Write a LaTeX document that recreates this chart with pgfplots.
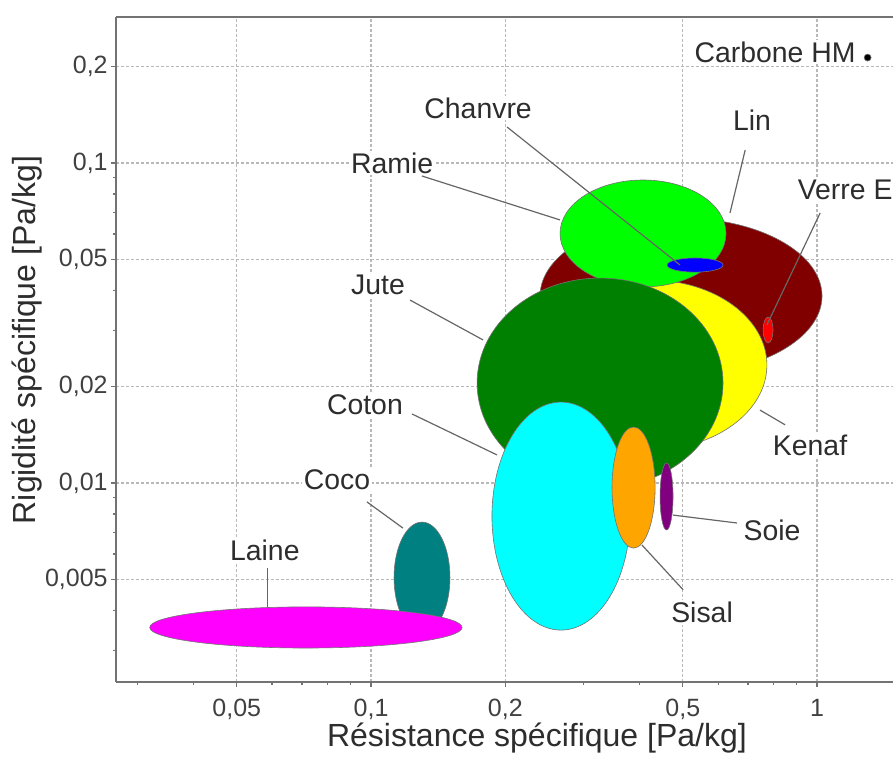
\documentclass[border=0pt]{standalone}
\usepackage{fontspec}
\setmainfont{Liberation Sans}
\usepackage{pgfplots}
\pgfplotsset{compat=1.18}
\usetikzlibrary{calc}

\definecolor{cLaine}{RGB}{255,0,255}
\definecolor{cCoco}{RGB}{0,128,128}
\definecolor{cCoton}{RGB}{0,255,255}
\definecolor{cSisal}{RGB}{255,165,0}
\definecolor{cSoie}{RGB}{128,0,128}
\definecolor{cJute}{RGB}{0,128,0}
\definecolor{cKenaf}{RGB}{255,255,0}
\definecolor{cLin}{RGB}{128,0,0}
\definecolor{cRamie}{RGB}{0,255,0}
\definecolor{cChanvre}{RGB}{0,0,255}
\definecolor{cVerre}{RGB}{255,0,0}
\definecolor{txt}{RGB}{45,45,45}

\newcommand{\tfont}{\fontsize{12.5}{14}\selectfont}
\newcommand{\lfont}{\fontsize{14.2}{16}\selectfont}
\newcommand{\afont}{\fontsize{16}{18}\selectfont}

% colour, x min, x max, y min, y max (data values)
\newcommand{\fibre}[5]{%
  \draw[fill=#1, draw=black!55, line width=0.3pt]
    let \p1=(axis cs:#2,#4), \p2=(axis cs:#3,#5) in
    ($(\p1)!0.5!(\p2)$) ellipse [x radius={(\x2-\x1)/2}, y radius={(\y2-\y1)/2}];
}
\newcommand{\lab}[3]{\node[fill=white, inner sep=1pt, text=txt, font=\lfont] at (axis cs:#1,#2) {#3};}
\newcommand{\lead}[4]{\draw[black!60, line width=0.6pt] (axis cs:#1,#2) -- (axis cs:#3,#4);}

\begin{document}
\begin{tikzpicture}
\begin{axis}[
  scale only axis,
  width=388.5pt, height=332.5pt,
  xmode=log, ymode=log,
  xmin=0.0268, xmax=1.480, ymin=0.002388, ymax=0.2860,
  axis x line*=bottom, axis y line*=left,
  axis line style={black!55, line width=0.8pt},
  tick align=outside,
  major tick length=2.5pt, minor tick length=1.5pt,
  tick style={black!55, line width=0.6pt},
  xtick={0.05,0.1,0.2,0.5,1},
  xticklabels={{0,05},{0,1},{0,2},{0,5},{1}},
  ytick={0.005,0.01,0.02,0.05,0.1,0.2},
  yticklabels={{0,005},{0,01},{0,02},{0,05},{0,1},{0,2}},
  minor xtick={0.03,0.04,0.06,0.07,0.08,0.09,0.3,0.4,0.6,0.7,0.8,0.9},
  minor ytick={0.003,0.004,0.006,0.007,0.008,0.009,0.03,0.04,0.06,0.07,0.08,0.09},
  xmajorgrids, ymajorgrids,
  major grid style={black!28, dash pattern=on 1.5pt off 1pt, line width=0.6pt},
  xticklabel style={font=\tfont, text=black!75, inner sep=0pt, yshift=-6pt},
  yticklabel style={font=\tfont, text=black!75, inner sep=0pt, xshift=-1.5pt},
  xlabel={Résistance spécifique [Pa/kg]},
  ylabel={Rigidité spécifique [Pa/kg]},
  xlabel style={at={(rel axis cs:0.5418,-0.0835)}, anchor=center, font=\afont, text=txt},
  ylabel style={at={(rel axis cs:-0.1140,0.5143)}, anchor=center, font=\afont, text=txt},
]
% ellipses: colour, x1, x2, y1, y2
\fibre{cLin}{0.2393}{1.026}{0.02193}{0.0673}
\fibre{cVerre}{0.757}{0.797}{0.0274}{0.033}
\fibre{cKenaf}{0.2308}{0.772}{0.01268}{0.0431}
\fibre{cRamie}{0.2653}{0.625}{0.041}{0.0885}
\fibre{cChanvre}{0.461}{0.6154}{0.0456}{0.0505}
\fibre{cJute}{0.1729}{0.6154}{0.00965}{0.0437}
\fibre{cCoton}{0.1867}{0.3808}{0.00347}{0.0179}
\fibre{cSisal}{0.347}{0.4334}{0.00626}{0.01496}
\fibre{cSoie}{0.4446}{0.4754}{0.00713}{0.01155}
\fibre{cCoco}{0.1126}{0.1503}{0.0034}{0.00755}
\fibre{cLaine}{0.0319}{0.160}{0.00305}{0.0041}
\fibre{black}{1.275}{1.322}{0.2083}{0.219}

% leader lines
\lead{0.690}{0.1098}{0.638}{0.0698}
\lead{1.016}{0.0698}{0.772}{0.0312}
\lead{0.2018}{0.1296}{0.4929}{0.048}
\lead{0.130}{0.0911}{0.2653}{0.0664}
\lead{0.1223}{0.0373}{0.1783}{0.028}
\lead{0.1236}{0.01643}{0.1916}{0.01224}
\lead{0.0979}{0.00873}{0.1179}{0.00723}
\lead{0.0587}{0.00543}{0.0587}{0.0041}
\lead{0.745}{0.0169}{0.848}{0.0152}
\lead{0.4754}{0.00794}{0.6614}{0.0075}
\lead{0.405}{0.0064}{0.5007}{0.00464}

% labels
\lab{0.805}{0.2223}{Carbone HM}
\lab{0.7148}{0.1363}{Lin}
\lab{1.156}{0.0823}{Verre E}
\lab{0.1738}{0.1486}{Chanvre}
\lab{0.1115}{0.1}{Ramie}
\lab{0.1037}{0.0416}{Jute}
\lab{0.0969}{0.01753}{Coton}
\lab{0.0839}{0.01022}{Coco}
\lab{0.0578}{0.00618}{Laine}
\lab{0.9645}{0.01315}{Kenaf}
\lab{0.7925}{0.00713}{Soie}
\lab{0.5523}{0.00393}{Sisal}
\end{axis}
\draw[black!55, line width=0.8pt] (current axis.north west) -- (current axis.north east);
\pgfresetboundingbox
\path[use as bounding box] ($(current axis.south west)+(-58pt,-37pt)$) rectangle ($(current axis.north east)+(0,8.5pt)$);
\end{tikzpicture}
\end{document}
